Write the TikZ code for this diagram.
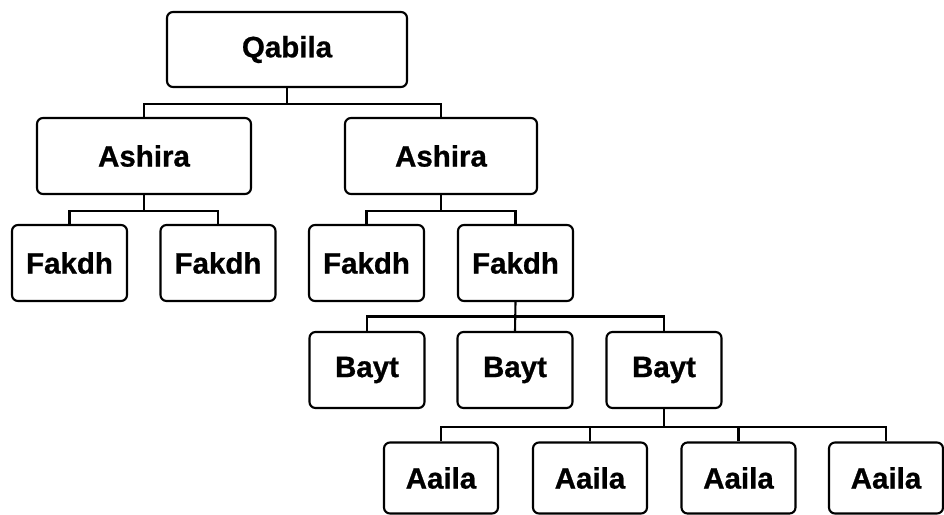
\documentclass[tikz,border=0pt]{standalone}
\usepackage{fontspec}
\setmainfont[BoldFeatures={FakeBold=0.8}]{Liberation Sans}
\usetikzlibrary{calc}
\begin{document}
\begin{tikzpicture}[x=1pt,y=-1pt,
  box/.style={draw=black, line width=2.1pt, rounded corners=6pt, fill=white,
    minimum width=115pt, minimum height=76pt, inner sep=0pt,
    font=\fontsize{29.5}{33}\selectfont\bfseries},
  conn/.style={draw=black, line width=2.1pt}]
\useasboundingbox (0,0) rectangle (944,514);
\node[box, minimum width=240pt, minimum height=75pt] (Q) at (287,49.5) {Qabila};
\node[box, minimum width=214pt] (AL) at (144,156) {Ashira};
\node[box, minimum width=192pt] (AR) at (441,156) {Ashira};
\node[box] (F1) at (69.5,263) {Fakdh};
\node[box] (F2) at (218,263) {Fakdh};
\node[box] (F3) at (366.5,263) {Fakdh};
\node[box] (F4) at (515.5,263) {Fakdh};
\node[box] (B1) at (367,370) {Bayt};
\node[box] (B2) at (515,370) {Bayt};
\node[box] (B3) at (664,370) {Bayt};
\node[box, minimum width=114pt, minimum height=71pt] (A1) at (441,478) {Aaila};
\node[box, minimum width=114pt, minimum height=71pt] (A2) at (590,478) {Aaila};
\node[box, minimum width=114pt, minimum height=71pt] (A3) at (738.5,478) {Aaila};
\node[box, minimum width=114pt, minimum height=71pt] (A4) at (886,478) {Aaila};
% Qabila -> Ashira
\draw[conn] (Q.south) -- ++(0,16) coordinate (q1);
\draw[conn] (AL.north) |- (q1) -| (AR.north);
% Ashira L -> Fakdh
\draw[conn] (AL.south) -- ++(0,16) coordinate (al1);
\draw[conn] (F1.north) |- (al1) -| (F2.north);
% Ashira R -> Fakdh
\draw[conn] (AR.south) -- ++(0,16) coordinate (ar1);
\draw[conn] (F3.north) |- (ar1) -| (F4.north);
% Fakdh -> Bayt
\draw[conn] (F4.south) -- (B2.north);
\draw[conn] (B1.north) |- ($(F4.south)!0.5!(B2.north)$) coordinate (f41) -| (B3.north);
% Bayt -> Aaila
\draw[conn] (B3.south) -- ++(0,18) coordinate (b31);
\draw[conn] (A1.north) |- (b31) -| (A4.north);
\draw[conn] (A2.north) -- (A2.north |- b31);
\draw[conn] (A3.north) -- (A3.north |- b31);
\end{tikzpicture}
\end{document}
